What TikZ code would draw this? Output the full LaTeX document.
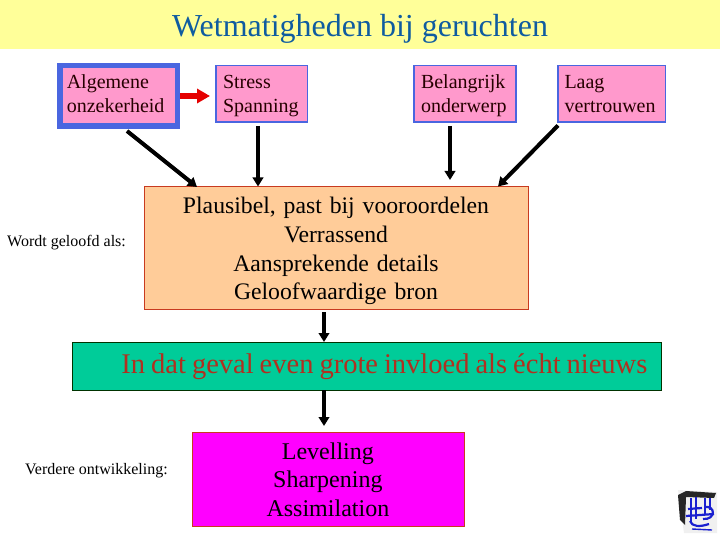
\documentclass[tikz,border=0pt]{standalone}
\usepackage{fontspec}
\setmainfont{Liberation Serif}
\usetikzlibrary{arrows.meta}
\definecolor{bandc}{HTML}{FFFF99}
\definecolor{titlec}{HTML}{0F5CA0}
\definecolor{pinkc}{HTML}{FF99CC}
\definecolor{bluec}{HTML}{4A66E0}
\definecolor{orangec}{HTML}{FFCC99}
\definecolor{greenc}{HTML}{00CC99}
\definecolor{magc}{HTML}{FF00FF}
\definecolor{edgered}{HTML}{C83A20}
\definecolor{textred}{HTML}{B03020}
\definecolor{logoblue}{HTML}{1A20D0}
\newcommand{\twolines}[4]{\raisebox{#4}[0pt][0pt]{\parbox{#1}{\hspace*{#2}\strut #3}}}
\tikzset{
 x=1pt,y=-1pt,
 pinkbox/.style={draw=bluec,fill=pinkc,line width=1.6pt,outer sep=0pt,anchor=north west,inner sep=0pt,font=\fontsize{20}{24}\selectfont,align=left,text=black!85!red},
 centerbox/.style={draw=edgered,fill=orangec,line width=0.8pt,outer sep=0pt,anchor=north west,inner sep=0pt,align=center,font=\fontsize{23.7}{28.7}\selectfont},
 conn/.style={line width=4pt,-{Triangle[length=9pt,width=10.5pt]},black},
 side/.style={anchor=west,inner sep=0pt,font=\fontsize{16}{19}\selectfont},
}
\begin{document}
\begin{tikzpicture}
\useasboundingbox (0,0) rectangle (720,540);
\fill[white] (0,0) rectangle (720,540);
\fill[bandc] (0,0) rectangle (720,49);
\node[text=titlec,font=\fontsize{32}{36}\selectfont] (title) at (360,29) {Wetmatigheden bij geruchten};

\node[pinkbox,line width=5.5pt,minimum width=117.5pt,minimum height=60.5pt,text width=117.5pt] (alg) at (59.75,65.75) {\twolines{117.5pt}{7pt}{Algemene\\\hspace*{7pt}\strut onzekerheid}{-4.5pt}};
\node[pinkbox,minimum width=91.5pt,minimum height=56.5pt,text width=91.5pt] (str) at (216,65.5) {\twolines{91.5pt}{7pt}{Stress\\\hspace*{7pt}\strut Spanning}{-7.5pt}};
\node[pinkbox,minimum width=102pt,minimum height=56.5pt,text width=102pt] (bel) at (413.8,65.5) {\twolines{102pt}{7.2pt}{Belangrijk\\\hspace*{7.2pt}\strut onderwerp}{-7.5pt}};
\node[pinkbox,minimum width=107.5pt,minimum height=56.5pt,text width=107.5pt] (laag) at (558,65.5) {\twolines{107.5pt}{6.5pt}{Laag\\\hspace*{6.5pt}\strut vertrouwen}{-7.5pt}};

\node[centerbox,minimum width=384pt,minimum height=123pt,text width=384pt] (pl) at (144.4,186.4) {\makebox[384pt][l]{\hspace*{21.6pt}\raisebox{-9.5pt}[0pt][0pt]{\parbox{340pt}{\centering Plausibel, past bij vooroordelen\\Verrassend\\Aansprekende details\\Geloofwaardige bron}}}};
\node[centerbox,draw=black!80!green,fill=greenc,minimum width=589pt,minimum height=48pt,text width=589pt,text=textred,font=\fontsize{28.5}{32}\selectfont] (gr) at (72.4,342.4) {\makebox[589pt]{\hspace*{35pt}\spaceskip=.21em In dat geval even grote invloed als écht nieuws}};
\node[centerbox,fill=magc,minimum width=272pt,minimum height=94pt,text width=272pt,font=\fontsize{24}{28.5}\selectfont] (lev) at (192.4,432.4) {\makebox[272pt]{\hspace*{-1pt}\parbox{272pt}{\centering Levelling\\Sharpening\\Assimilation}}};

\node[side] (w) at (7,243) {Wordt geloofd als:};
\node[side] (v) at (25,471) {Verdere ontwikkeling:};

\coordinate (e1) at (197,187);
\coordinate (e2) at (258,186.5);
\coordinate (e3) at (450,180);
\coordinate (e4) at (498,186.5);
\coordinate (s1) at (127,131);
\coordinate (s2) at (258,126);
\coordinate (s3) at (450,126);
\coordinate (s4) at (558,125.5);
\coordinate (s5) at (324,312);
\coordinate (e5) at (324,342);
\coordinate (s6) at (324,390);
\coordinate (e6) at (324,426);
\coordinate (rs) at (180,96);
\coordinate (re) at (210,96);
\draw[conn] (s1) -- (e1);
\draw[conn] (s2) -- (e2);
\draw[conn] (s3) -- (e3);
\draw[conn] (s4) -- (e4);
\draw[conn] (s5) -- (e5);
\draw[conn] (s6) -- (e6);
\draw[line width=5.5pt,red!90!black,-{Triangle[length=13pt,width=14pt]}] (rs) -- (re);

% logo
\fill[white!94!black] (678,490) -- (717,492) -- (717,533) -- (684,533) -- cycle;
\fill[black!85] (678,495) -- (686,491) -- (716,493) -- (714,498) -- (686,497) -- (685,525) -- (680,520) -- cycle;
\begin{scope}[draw=logoblue,line width=2.2pt]
\draw (691,498) -- (691,522) (696,497) -- (696,519) (705,498) -- (705,514) (710,498) -- (710,510);
\draw (686,516) -- (714,514) (688,509) -- (702,508);
\draw (704,507) .. controls (716,505) and (716,520) .. (703,519);
\draw (709,524) .. controls (700,527) and (692,527) .. (690,521);
\draw[line width=1.4pt] (692,529) -- (712,530);
\end{scope}
\end{tikzpicture}
\end{document}
